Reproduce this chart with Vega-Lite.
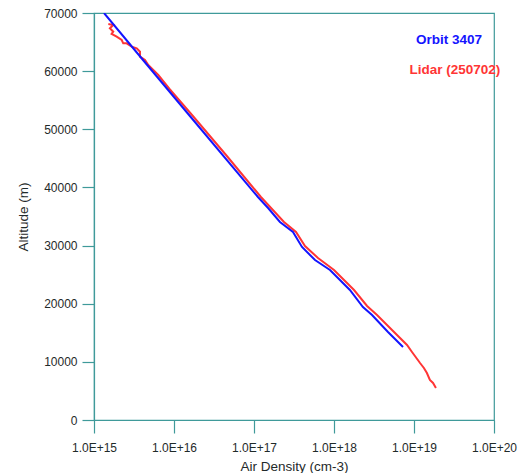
{
  "$schema": "https://vega.github.io/schema/vega-lite/v6.json",
  "width": 400,
  "height": 407,
  "autosize": {"type": "none"},
  "padding": {"left": 94, "top": 13, "right": 38, "bottom": 53},
  "background": "white",
  "config": {
    "font": "Liberation Sans",
    "view": {"stroke": "#3f9a9a", "strokeWidth": 1.2},
    "axis": {
      "grid": false,
      "domainColor": "#3f9a9a",
      "tickColor": "#3f9a9a",
      "labelColor": "#1f2a2a",
      "titleColor": "#1f2a2a",
      "labelFont": "Liberation Sans",
      "titleFont": "Liberation Sans",
      "titleFontWeight": "normal",
      "labelFontSize": 12,
      "titleFontSize": 13.5,
      "domainWidth": 1.2,
      "tickWidth": 1.2,
      "labelFlush": false
    }
  },
  "datasets": {
    "lines": [
      {"series": "Lidar (250702)", "seq": 1, "density": 1.51e15, "altitude": 68108},
      {"series": "Lidar (250702)", "seq": 2, "density": 1.74e15, "altitude": 67936},
      {"series": "Lidar (250702)", "seq": 3, "density": 1.58e15, "altitude": 67367},
      {"series": "Lidar (250702)", "seq": 4, "density": 1.74e15, "altitude": 66784},
      {"series": "Lidar (250702)", "seq": 5, "density": 1.66e15, "altitude": 66388},
      {"series": "Lidar (250702)", "seq": 6, "density": 1.92e15, "altitude": 65924},
      {"series": "Lidar (250702)", "seq": 7, "density": 2.22e15, "altitude": 65356},
      {"series": "Lidar (250702)", "seq": 8, "density": 2.32e15, "altitude": 64789},
      {"series": "Lidar (250702)", "seq": 9, "density": 2.56e15, "altitude": 64789},
      {"series": "Lidar (250702)", "seq": 10, "density": 2.96e15, "altitude": 64204},
      {"series": "Lidar (250702)", "seq": 11, "density": 3.42e15, "altitude": 63929},
      {"series": "Lidar (250702)", "seq": 12, "density": 3.76e15, "altitude": 63344},
      {"series": "Lidar (250702)", "seq": 13, "density": 3.76e15, "altitude": 62484},
      {"series": "Lidar (250702)", "seq": 14, "density": 4.34e15, "altitude": 61916},
      {"series": "Lidar (250702)", "seq": 15, "density": 4.77e15, "altitude": 61056},
      {"series": "Lidar (250702)", "seq": 16, "density": 5.51e15, "altitude": 60196},
      {"series": "Lidar (250702)", "seq": 17, "density": 6.36e15, "altitude": 59336},
      {"series": "Lidar (250702)", "seq": 18, "density": 8.79e15, "altitude": 56929},
      {"series": "Lidar (250702)", "seq": 19, "density": 1.68e16, "altitude": 52457},
      {"series": "Lidar (250702)", "seq": 20, "density": 4.47e16, "altitude": 45577},
      {"series": "Lidar (250702)", "seq": 21, "density": 1.22e17, "altitude": 38354},
      {"series": "Lidar (250702)", "seq": 22, "density": 2.37e17, "altitude": 34054},
      {"series": "Lidar (250702)", "seq": 23, "density": 3.35e17, "altitude": 32334},
      {"series": "Lidar (250702)", "seq": 24, "density": 4.34e17, "altitude": 29926},
      {"series": "Lidar (250702)", "seq": 25, "density": 6.31e17, "altitude": 27862},
      {"series": "Lidar (250702)", "seq": 26, "density": 1.0e18, "altitude": 25798},
      {"series": "Lidar (250702)", "seq": 27, "density": 1.78e18, "altitude": 22359},
      {"series": "Lidar (250702)", "seq": 28, "density": 2.59e18, "altitude": 19607},
      {"series": "Lidar (250702)", "seq": 29, "density": 3.45e18, "altitude": 18059},
      {"series": "Lidar (250702)", "seq": 30, "density": 5.31e18, "altitude": 15479},
      {"series": "Lidar (250702)", "seq": 31, "density": 8.18e18, "altitude": 12899},
      {"series": "Lidar (250702)", "seq": 32, "density": 9.44e18, "altitude": 11695},
      {"series": "Lidar (250702)", "seq": 33, "density": 1.19e19, "altitude": 9803},
      {"series": "Lidar (250702)", "seq": 34, "density": 1.33e19, "altitude": 8944},
      {"series": "Lidar (250702)", "seq": 35, "density": 1.45e19, "altitude": 8083},
      {"series": "Lidar (250702)", "seq": 36, "density": 1.58e19, "altitude": 6880},
      {"series": "Lidar (250702)", "seq": 37, "density": 1.73e19, "altitude": 6364},
      {"series": "Lidar (250702)", "seq": 38, "density": 1.88e19, "altitude": 5504},
      {"series": "Orbit 3407", "seq": 1, "density": 1.334e15, "altitude": 70000},
      {"series": "Orbit 3407", "seq": 2, "density": 4.10e15, "altitude": 61916},
      {"series": "Orbit 3407", "seq": 3, "density": 1.58e16, "altitude": 52285},
      {"series": "Orbit 3407", "seq": 4, "density": 1.12e17, "altitude": 38354},
      {"series": "Orbit 3407", "seq": 5, "density": 1.50e17, "altitude": 36462},
      {"series": "Orbit 3407", "seq": 6, "density": 2.11e17, "altitude": 34054},
      {"series": "Orbit 3407", "seq": 7, "density": 3.07e17, "altitude": 32334},
      {"series": "Orbit 3407", "seq": 8, "density": 3.98e17, "altitude": 29754},
      {"series": "Orbit 3407", "seq": 9, "density": 5.79e17, "altitude": 27518},
      {"series": "Orbit 3407", "seq": 10, "density": 8.91e17, "altitude": 25798},
      {"series": "Orbit 3407", "seq": 11, "density": 1.58e18, "altitude": 22359},
      {"series": "Orbit 3407", "seq": 12, "density": 2.30e18, "altitude": 19435},
      {"series": "Orbit 3407", "seq": 13, "density": 2.99e18, "altitude": 18059},
      {"series": "Orbit 3407", "seq": 14, "density": 4.73e18, "altitude": 15135},
      {"series": "Orbit 3407", "seq": 15, "density": 7.29e18, "altitude": 12555}
    ],
    "labels": [
      {"series": "Orbit 3407", "density": 2.74e19, "altitude": 65356},
      {"series": "Lidar (250702)", "density": 3.25e19, "altitude": 60197}
    ]
  },
  "layer": [
    {
      "data": {"name": "lines"},
      "mark": {"type": "line", "strokeWidth": 2, "clip": true},
      "encoding": {
        "x": {
          "field": "density", "type": "quantitative",
          "scale": {"type": "log", "domain": [1e15, 1e20], "nice": false},
          "axis": {
            "values": [1e15, 1e16, 1e17, 1e18, 1e19, 1e20],
            "labelExpr": "'1.0E+' + round(log(datum.value)/LN10)",
            "tickSize": 13,
            "labelPadding": 9,
            "title": "Air Density (cm-3)",
            "titleY": 46,
            "titleBaseline": "middle"
          }
        },
        "y": {
          "field": "altitude", "type": "quantitative",
          "scale": {"domain": [0, 70000], "nice": false, "zero": true},
          "axis": {
            "values": [0, 5000, 10000, 15000, 20000, 25000, 30000, 35000, 40000, 45000, 50000, 55000, 60000, 65000, 70000],
            "format": "d",
            "tickSize": 12,
            "labelPadding": 5,
            "title": "Altitude (m)",
            "titleX": -71,
            "titleBaseline": "middle"
          }
        },
        "color": {
          "field": "series", "type": "nominal",
          "scale": {"domain": ["Lidar (250702)", "Orbit 3407"], "range": ["#ff3535", "#1414ff"]},
          "legend": null
        },
        "order": {"field": "seq", "type": "quantitative"}
      }
    },
    {
      "data": {"name": "labels"},
      "mark": {"type": "text", "font": "Liberation Sans", "fontWeight": "bold", "fontSize": 13.5, "align": "center", "baseline": "middle"},
      "encoding": {
        "x": {"field": "density", "type": "quantitative", "scale": {"type": "log"}},
        "y": {"field": "altitude", "type": "quantitative"},
        "text": {"field": "series"},
        "color": {"field": "series", "type": "nominal", "legend": null}
      }
    }
  ]
}
